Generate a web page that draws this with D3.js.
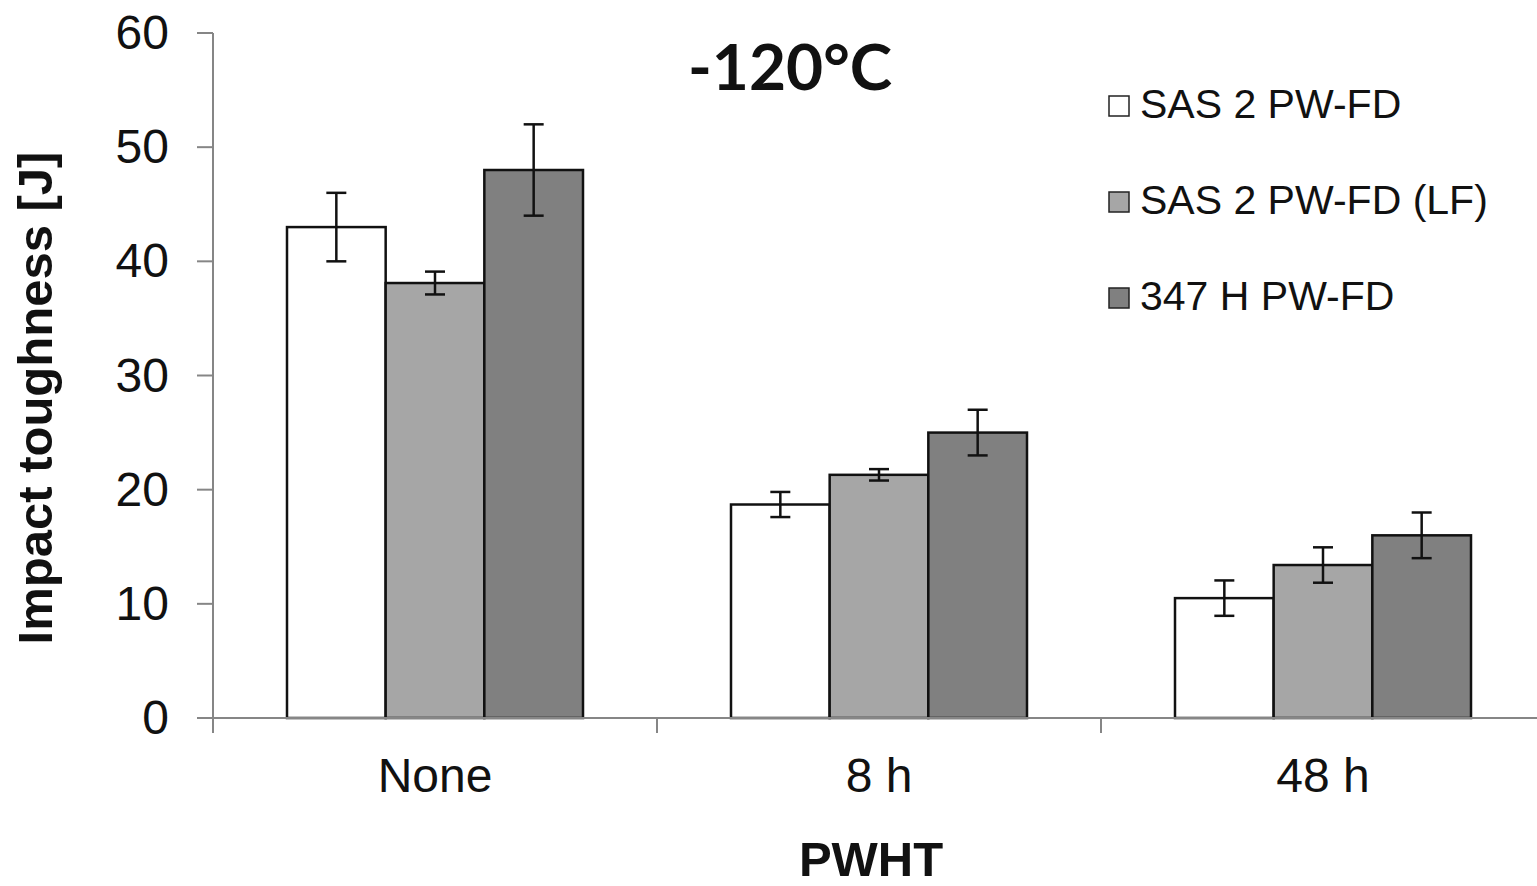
<!DOCTYPE html>
<html>
<head>
<meta charset="utf-8">
<script src="https://cdn.jsdelivr.net/npm/d3@7"></script>
<style>
  body { margin: 0; background: #fff; }
  svg { display: block; }
</style>
</head>
<body>
<div id="viz"></div>
<script>
// data
const categories = ['None', '8 h', '48 h'];
const seriesNames = ['SAS 2 PW-FD', 'SAS 2 PW-FD (LF)', '347 H PW-FD'];
const seriesColors = ['#ffffff', '#a6a6a6', '#808080'];
const sas2 = [43.0, 18.7, 10.5];
const sas2Err = [3.0, 1.1, 1.55];
const sas2LF = [38.1, 21.3, 13.4];
const sas2LFErr = [1.0, 0.5, 1.55];
const h347 = [48.0, 25.0, 16.0];
const h347Err = [4.0, 2.0, 2.0];
const yTicks = [0, 10, 20, 30, 40, 50, 60];

const width = 1537;
const height = 886;
const margin = { top: 33, right: -8, bottom: 168, left: 213 };

const svg = d3.select('#viz')
  .append('svg')
  .attr('width', width)
  .attr('height', height);

const x = d3.scaleBand()
  .domain(categories)
  .range([margin.left, width - margin.right])
  .paddingInner(0)
  .paddingOuter(0);

const y = d3.scaleLinear()
  .domain([0, 60])
  .range([height - margin.bottom, margin.top]);

// width of one bar, excel style gap width ~150%
const barW = x.bandwidth() / 4.5;

const series = [
  { name: seriesNames[0], values: sas2, err: sas2Err, color: seriesColors[0] },
  { name: seriesNames[1], values: sas2LF, err: sas2LFErr, color: seriesColors[1] },
  { name: seriesNames[2], values: h347, err: h347Err, color: seriesColors[2] },
];

const axisCol = '#868686';
const tickFont = '"Liberation Sans", Arial, sans-serif';

// y axis
svg.append('line')
  .attr('x1', margin.left).attr('x2', margin.left)
  .attr('y1', y(60)).attr('y2', y(0))
  .attr('stroke', axisCol).attr('stroke-width', 2);

svg.selectAll('.ytick')
  .data(yTicks)
  .enter()
  .append('line')
  .attr('x1', margin.left - 16).attr('x2', margin.left)
  .attr('y1', d => y(d)).attr('y2', d => y(d))
  .attr('stroke', axisCol).attr('stroke-width', 2);

svg.selectAll('.ylabel')
  .data(yTicks)
  .enter()
  .append('text')
  .attr('x', 169)
  .attr('y', d => y(d) + 16)
  .attr('text-anchor', 'end')
  .style('font-family', tickFont)
  .style('font-size', '48px')
  .style('fill', '#111')
  .text(d => d);

// bars
series.forEach((s, i) => {
  svg.append('g')
    .selectAll('rect')
    .data(categories)
    .enter()
    .append('rect')
    .attr('x', c => x(c) + x.bandwidth() / 2 + (i - 1.5) * barW)
    .attr('y', (c, j) => y(s.values[j]))
    .attr('width', barW)
    .attr('height', (c, j) => y(0) - y(s.values[j]))
    .attr('fill', s.color)
    .attr('stroke', '#111')
    .attr('stroke-width', 2.5);
});

// x axis, drawn over the bars base
svg.append('line')
  .attr('x1', margin.left - 16).attr('x2', width)
  .attr('y1', y(0)).attr('y2', y(0))
  .attr('stroke', axisCol).attr('stroke-width', 2);

svg.selectAll('.xtick')
  .data(categories)
  .enter()
  .append('line')
  .attr('x1', c => x(c)).attr('x2', c => x(c))
  .attr('y1', y(0)).attr('y2', y(0) + 15)
  .attr('stroke', axisCol).attr('stroke-width', 2);

svg.selectAll('.xlabel')
  .data(categories)
  .enter()
  .append('text')
  .attr('x', c => x(c) + x.bandwidth() / 2)
  .attr('y', 792)
  .attr('text-anchor', 'middle')
  .style('font-family', tickFont)
  .style('font-size', '48px')
  .style('fill', '#111')
  .text(c => c);

// error bars
series.forEach((s, i) => {
  const g = svg.append('g');
  categories.forEach((c, j) => {
    const cx = x(c) + x.bandwidth() / 2 + (i - 1) * barW;
    const top = y(s.values[j] + s.err[j]);
    const bot = y(s.values[j] - s.err[j]);
    g.append('line')
      .attr('x1', cx).attr('x2', cx).attr('y1', top).attr('y2', bot)
      .attr('stroke', '#111').attr('stroke-width', 2.5);
    [top, bot].forEach(yy => {
      g.append('line')
        .attr('x1', cx - 10).attr('x2', cx + 10).attr('y1', yy).attr('y2', yy)
        .attr('stroke', '#111').attr('stroke-width', 2.5);
    });
  });
});

// titles
svg.append('text')
  .attr('transform', 'translate(52,398) rotate(-90)')
  .attr('text-anchor', 'middle')
  .style('font-family', tickFont)
  .style('font-weight', 'bold')
  .style('font-size', '49px')
  .style('fill', '#111')
  .text('Impact toughness [J]');

svg.append('text')
  .attr('x', 871)
  .attr('y', 876)
  .attr('text-anchor', 'middle')
  .style('font-family', tickFont)
  .style('font-weight', 'bold')
  .style('font-size', '49px')
  .style('fill', '#111')
  .text('PWHT');

svg.append('text')
  .attr('x', 790)
  .attr('y', 90)
  .attr('text-anchor', 'middle')
  .style('font-family', 'Lato, "Open Sans", sans-serif')
  .style('font-weight', 'bold')
  .style('font-size', '64px')
  .style('fill', '#111')
  .text('-120°C');

// legend
const legend = svg.append('g').attr('transform', 'translate(1108,95)');
const legRow = legend.selectAll('g')
  .data(series)
  .enter()
  .append('g')
  .attr('transform', (d, i) => `translate(0,${i * 96})`);

legRow.append('rect')
  .attr('x', 1).attr('y', 1)
  .attr('width', 20).attr('height', 20)
  .attr('fill', d => d.color)
  .attr('stroke', '#222')
  .attr('stroke-width', 1.5);

legRow.append('text')
  .attr('x', 32)
  .attr('y', 23)
  .style('font-family', tickFont)
  .style('font-size', '41px')
  .style('fill', '#111')
  .text(d => d.name);
</script>
</body>
</html>
